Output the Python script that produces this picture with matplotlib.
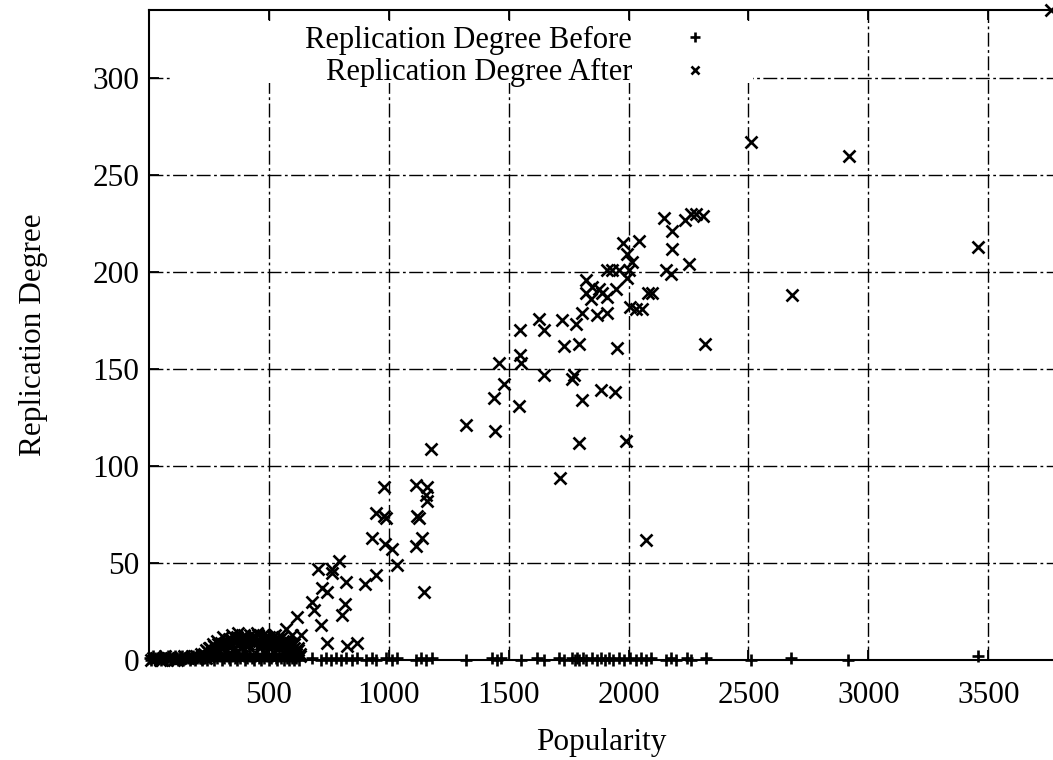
import matplotlib
matplotlib.use("Agg")
import matplotlib.pyplot as plt
from matplotlib.patches import Rectangle

# data
before_x = [3, 10, 17, 24, 31, 38, 45, 52, 59, 66, 73, 80, 87, 94, 101, 108,
            115, 122, 129, 136, 143, 150, 157, 164, 171, 178, 185, 192, 199,
            206, 213, 220, 227, 234, 241, 248,
            255, 262, 269, 276, 283, 290, 297, 304, 311, 318, 325, 332, 339,
            346, 353, 360, 367, 374, 381, 388, 395, 402, 409, 416, 423, 430,
            437, 444, 451, 458, 465, 472, 479, 486, 493, 500, 507, 514, 521,
            528, 535, 542, 549, 556, 563, 570, 577, 584, 591, 598, 605, 612,
            619, 626,
            679, 717, 738, 758, 779, 800, 821, 846, 867, 904, 929, 946, 988,
            1013, 1033, 1113, 1133, 1154, 1179, 1321, 1429, 1450, 1467, 1550,
            1617, 1646, 1708, 1729, 1763, 1775, 1785, 1795, 1808, 1821, 1846,
            1867, 1883, 1900, 1917, 1933, 1958, 1979, 2008, 2029, 2050, 2071,
            2092, 2154, 2175, 2196, 2242, 2262, 2321, 2512, 2679, 2917, 3458]
before_y = [1, 0, 2, 1, 0, 1, 2, 0, 1, 1, 0, 2, 1, 0, 1, 2, 1, 0, 1, 2,
            0, 1, 2, 1, 0, 1, 2, 0, 1, 2, 1, 0, 2, 1, 0, 2,
            1, 3, 0, 2, 1, 3, 2, 0, 1, 3, 2, 1, 0, 2, 3, 1, 0, 2, 1, 3,
            2, 0, 1, 3, 2, 1, 0, 2, 3, 1, 0, 2, 1, 3, 2, 0, 1, 2, 3, 1,
            0, 2, 1, 3, 0, 2, 1, 0, 2, 1, 0, 1, 2, 0,
            1, 0, 1, 0, 1, 0, 1, 0, 1, 0, 1, 0, 1,
            0, 1, 0, 1, 0, 1, 0, 1, 0, 1, 0,
            1, 0, 1, 0, 1, 0, 1, 0, 1, 0, 1,
            0, 1, 0, 1, 0, 1, 0, 1, 0, 1, 0,
            1, 0, 1, 0, 1, 0, 1, 0, 1, 0, 2]

after_x = [2510, 2920, 3458, 2680, 2317, 2071,
           2146, 2237, 2262, 2283, 2312, 2183, 2183, 2250, 2158, 2175,
           1975, 2042, 1992, 2013, 2000, 1992, 1908, 1929, 1958,
           1821, 1846, 1875, 1821, 1888, 1908, 1946, 1842, 2008, 2033, 2054,
           2083, 2096,
           1721, 1804, 1867, 1908, 1779, 1729, 1792, 1950,
           1771, 1763, 1883, 1942, 1804, 1792, 1988,
           1321, 1438, 1442, 1458, 1479, 1546, 1546, 1550, 1542, 1625, 1646,
           1646, 1712,
           1175, 979, 1112, 1158, 1154, 1158, 946, 979, 987, 1117, 1125, 929,
           983, 1012, 1138, 1112, 1033, 1146,
           792, 763, 763, 704, 946, 900, 821, 721, 742, 679, 688, 817, 804,
           717, 617, 571, 596, 633, 742, 867, 825,
           230, 238, 246, 254, 262, 270, 278, 286, 294, 302, 310, 318, 326,
           334, 342, 350, 358, 366, 374, 382, 390, 398, 406, 414, 422, 430,
           438, 446, 454, 462, 470, 478, 486, 494, 502, 510, 518, 526, 534,
           542, 550, 558, 566, 574, 582, 590, 598, 606, 614, 622, 630,
           8, 30, 55, 80, 105, 130, 155, 180, 205, 225, 3760]
after_y = [267, 260, 213, 188, 163, 62,
           228, 227, 230, 230, 229, 221, 212, 204, 201, 199,
           215, 216, 209, 205, 201, 197, 201, 201, 201,
           196, 192, 191, 189, 189, 187, 191, 186, 182, 181, 181,
           189, 189,
           175, 179, 178, 179, 173, 162, 163, 161,
           147, 145, 139, 138, 134, 112, 113,
           121, 135, 118, 153, 142, 170, 157, 153, 131, 176, 170,
           147, 94,
           109, 89, 90, 89, 85, 82, 76, 74, 73, 74, 73, 63,
           60, 57, 63, 59, 49, 35,
           51, 47, 45, 47, 44, 39, 40, 37, 35, 30, 26, 29, 23,
           18, 22, 16, 13, 13, 9, 9, 7,
           3, 5, 2, 6, 4, 7, 3, 8, 5, 9, 6, 4, 10,
           7, 11, 5, 9, 12, 8, 6, 10, 13, 9, 7, 11, 12,
           8, 10, 13, 6, 9, 11, 12, 7, 10, 8, 12, 9, 11,
           6, 8, 10, 5, 9, 7, 4, 8, 6, 3, 5, 2,
           0, 1, 0, 1, 0, 1, 1, 2, 1, 2, 335]

# the crowded low-popularity files of the "after" series
after_low_x = [236, 244, 252, 260, 268, 276, 284, 292, 300, 308, 316, 324,
               332, 340, 348, 356, 364, 372, 380, 388, 396, 404, 412, 420,
               428, 436, 444, 452, 460, 468, 476, 484, 492, 500, 508, 516,
               524, 532, 540, 548, 556, 564, 572, 580, 588, 596, 604, 612,
               620, 628,
               15, 45, 65, 90, 115, 145, 170, 195, 215]
after_low_y = [1, 4, 6, 3, 8, 5, 10, 4, 7, 12, 9, 5, 11, 8, 13, 6, 10, 14,
               9, 7, 12, 10, 8, 13, 11, 9, 12, 14, 10, 8, 13, 11, 9, 12, 7,
               10, 13, 8, 11, 9, 12, 7, 10, 6, 9, 5, 8, 4, 6, 3,
               1, 0, 2, 1, 0, 2, 1, 2, 3]

xticks = [500, 1000, 1500, 2000, 2500, 3000, 3500]
yticks = [0, 50, 100, 150, 200, 250, 300]

plt.rcParams["font.family"] = ["Liberation Serif", "DejaVu Serif"]
fs = 22.5

fig = plt.figure(figsize=(10.53, 7.60), dpi=100)
ax = fig.add_axes([149 / 1053, 1 - 660 / 760, 1 - 149 / 1053, 650 / 760])

ax.plot(before_x, before_y, ls="none", marker="+", ms=9, mew=1.9,
        color="black", clip_on=False, zorder=3,
        label="Replication Degree Before")
ax.plot(after_x + after_low_x, after_y + after_low_y, ls="none", marker="x",
        ms=8, mew=1.9, color="black", clip_on=False, zorder=3,
        label="Replication Degree After")

ax.set_xlim(0, 3770)
ax.set_ylim(0, 335)
ax.set_xticks(xticks)
ax.set_yticks(yticks)

ax.set_axisbelow(True)
ax.grid(True, color="black", lw=1.0, linestyle=(0, (10, 2.5, 2, 2.5)))

ax.spines["right"].set_visible(False)
for s in ["top", "left", "bottom"]:
    ax.spines[s].set_linewidth(1.5)
ax.tick_params(direction="in", length=7, width=1.3, top=True, right=False,
               labelsize=fs, colors="black")
ax.tick_params(axis="x", pad=15)
ax.tick_params(axis="y", pad=7)

# white key background like gnuplot
ax.add_patch(Rectangle((0.023, 0.888), 0.645, 0.095, transform=ax.transAxes,
                       facecolor="white", edgecolor="none", zorder=1))

ax.legend(loc="upper right", bbox_to_anchor=(0.6206, 0.976), frameon=False,
          markerfirst=False, handlelength=1.0, handletextpad=1.55,
          labelspacing=0.12, borderpad=0, borderaxespad=0, fontsize=22,
          markerscale=0.75)

ax.set_xlabel("Popularity", fontsize=fs, labelpad=13)
ax.set_ylabel("Replication Degree", fontsize=fs, labelpad=32)

fig.savefig("out.png", dpi=100)
